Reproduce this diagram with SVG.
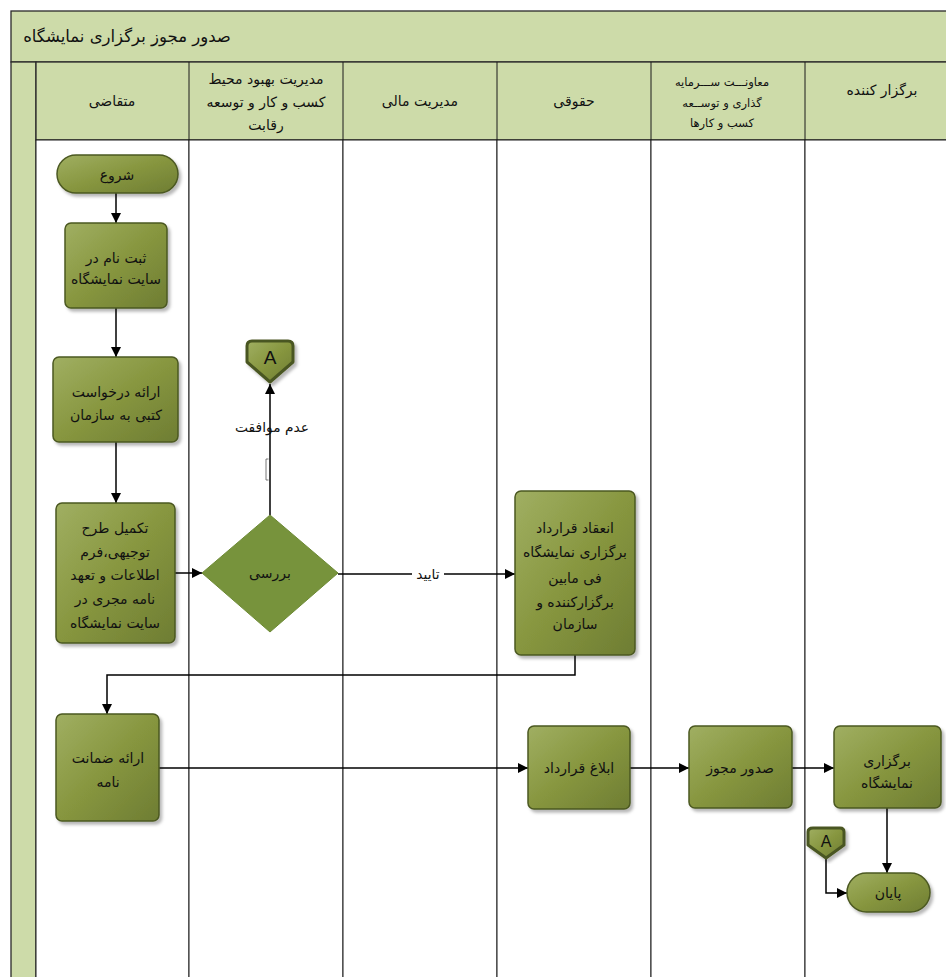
<svg xmlns="http://www.w3.org/2000/svg" width="946" height="977" viewBox="0 0 946 977">
<style>
.lane{fill:#ffffff;stroke:#1a1a1a;stroke-width:1}
.band{fill:#cddba9;stroke:#2a2a2a;stroke-width:1.3}
.hdr{font-family:"DejaVu Sans",sans-serif;font-size:14px;fill:#111;text-anchor:middle;dominant-baseline:central}
.hdrs{font-family:"DejaVu Sans",sans-serif;font-size:11.5px;fill:#111;text-anchor:middle;dominant-baseline:central}
.title{font-family:"DejaVu Sans",sans-serif;font-size:16.5px;fill:#111;text-anchor:middle;dominant-baseline:central}
.box{fill:url(#g);stroke:#4b5821;stroke-width:1.5;filter:url(#sh)}
.dia{fill:#77933c;stroke:#6d8a35;stroke-width:1}
.off{fill:url(#g);stroke:#4a5620;stroke-width:3;stroke-linejoin:round;filter:url(#sh)}
.nt{font-family:"DejaVu Sans",sans-serif;font-size:14px;fill:#111;text-anchor:middle;dominant-baseline:central}
.lt{font-family:"DejaVu Sans",sans-serif;font-size:13.8px;fill:#111;text-anchor:middle;dominant-baseline:central}
.at{font-family:"Liberation Sans",Arial,sans-serif;font-size:19px;fill:#111;text-anchor:middle;dominant-baseline:central}
.c{fill:none;stroke:#000;stroke-width:1.5;marker-end:url(#ah)}
</style>
<defs>
<linearGradient id="g" x1="0" y1="0" x2="1" y2="1">
<stop offset="0" stop-color="#a0af62"/>
<stop offset="0.5" stop-color="#87963f"/>
<stop offset="1" stop-color="#6e7d33"/>
</linearGradient>
<filter id="sh" x="-20%" y="-20%" width="140%" height="140%">
<feDropShadow dx="2.5" dy="3" stdDeviation="1.5" flood-color="#000" flood-opacity="0.28"/>
</filter>
<marker id="ah" viewBox="0 0 10 10" refX="10" refY="5" markerWidth="10" markerHeight="10" markerUnits="userSpaceOnUse" orient="auto">
<path d="M0,0 L10,5 L0,10 Z" fill="#000"/>
</marker>
</defs>
<rect x="0" y="0" width="946" height="977" fill="#ffffff"/>

<g id="pool">
<rect class="band" x="11" y="11" width="940" height="51"/>
<text class="title" x="127" y="36">صدور مجوز برگزاری نمایشگاه</text>
<rect class="band" x="11" y="62" width="25" height="920"/>
<rect class="band" x="36" y="62" width="915" height="78"/>
<rect class="lane" x="36" y="140" width="153" height="842"/>
<rect class="lane" x="189" y="140" width="154" height="842"/>
<rect class="lane" x="343" y="140" width="154" height="842"/>
<rect class="lane" x="497" y="140" width="154" height="842"/>
<rect class="lane" x="651" y="140" width="154" height="842"/>
<rect class="lane" x="805" y="140" width="146" height="842"/>
<line x1="189" y1="62" x2="189" y2="140" stroke="#1a1a1a" stroke-width="1"/>
<line x1="343" y1="62" x2="343" y2="140" stroke="#1a1a1a" stroke-width="1"/>
<line x1="497" y1="62" x2="497" y2="140" stroke="#1a1a1a" stroke-width="1"/>
<line x1="651" y1="62" x2="651" y2="140" stroke="#1a1a1a" stroke-width="1"/>
<line x1="805" y1="62" x2="805" y2="140" stroke="#1a1a1a" stroke-width="1"/>
<text class="hdr" x="112" y="101">متقاضی</text>
<text class="hdr" x="266" y="79">مدیریت بهبود محیط</text>
<text class="hdr" x="266" y="102">کسب و کار و توسعه</text>
<text class="hdr" x="266" y="125">رقابت</text>
<text class="hdr" x="420" y="101">مدیریت مالی</text>
<text class="hdr" x="574" y="101">حقوقی</text>
<text class="hdrs" x="722" y="82">معاونـــت ســـرمایه</text>
<text class="hdrs" x="722" y="103">گذاری و توســعه</text>
<text class="hdrs" x="722" y="123">کسب و کارها</text>
<text class="hdr" x="882" y="90">برگزار کننده</text>
</g>

<g id="connectors">
<path class="c" d="M116,193 L116,223"/>
<path class="c" d="M116,308 L116,357"/>
<path class="c" d="M116,442 L116,503"/>
<path class="c" d="M175,573 L202,573"/>
<path class="c" d="M270,515 L270,384"/>
<path class="c" d="M338,574 L515,574"/>
<path class="c" d="M575,655 L575,675 L107,675 L107,714"/>
<path class="c" d="M159,768 L528,768"/>
<path class="c" d="M630,768 L689,768"/>
<path class="c" d="M792,768 L834,768"/>
<path class="c" d="M887,808 L887,873"/>
<path class="c" d="M826,858 L826,893 L847,893"/>
<path d="M268.5,459 L266,459 L266,480 L268.5,480" fill="none" stroke="#555" stroke-width="0.8"/>
<text class="lt" x="272" y="427">عدم موافقت</text>
<rect x="412" y="566" width="32" height="16" fill="#ffffff"/>
<text class="lt" x="428" y="574">تایید</text>
</g>

<g id="start">
<rect class="box" x="57" y="155" width="121" height="38" rx="19" ry="19"/>
<text class="nt" x="117" y="175">شروع</text>
</g>
<g id="register">
<rect class="box" x="65" y="223" width="102" height="85" rx="6"/>
<text class="nt" x="116" y="258">ثبت نام در</text>
<text class="nt" x="116" y="279">سایت نمایشگاه</text>
</g>
<g id="request">
<rect class="box" x="53" y="357" width="125" height="85" rx="6"/>
<text class="nt" x="116" y="392">ارائه درخواست</text>
<text class="nt" x="116" y="415">کتبی به سازمان</text>
</g>
<g id="complete">
<rect class="box" x="56" y="503" width="119" height="140" rx="6"/>
<text class="nt" x="115" y="528">تکمیل طرح</text>
<text class="nt" x="115" y="552">توجیهی،فرم</text>
<text class="nt" x="115" y="575">اطلاعات و تعهد</text>
<text class="nt" x="115" y="599">نامه مجری در</text>
<text class="nt" x="115" y="623">سایت نمایشگاه</text>
</g>
<g id="review">
<polygon class="dia" points="270,515 338,573 270,632 202,573"/>
<text class="nt" x="270" y="573">بررسی</text>
</g>
<g id="offpage-a1">
<path class="off" d="M252,341 L288,341 Q293,341 293,346 L293,362 L270,382 L247,362 L247,346 Q247,341 252,341 Z"/>
<text class="at" x="270" y="357">A</text>
</g>
<g id="contract">
<rect class="box" x="515" y="491" width="120" height="164" rx="6"/>
<text class="nt" x="575" y="528">انعقاد قرارداد</text>
<text class="nt" x="575" y="552">برگزاری نمایشگاه</text>
<text class="nt" x="575" y="578">فی مابین</text>
<text class="nt" x="575" y="602">برگزارکننده و</text>
<text class="nt" x="575" y="624">سازمان</text>
</g>
<g id="guarantee">
<rect class="box" x="56" y="714" width="103" height="107" rx="6"/>
<text class="nt" x="108" y="758">ارائه ضمانت</text>
<text class="nt" x="108" y="782">نامه</text>
</g>
<g id="notify">
<rect class="box" x="528" y="726" width="102" height="83" rx="6"/>
<text class="nt" x="579" y="768">ابلاغ قرارداد</text>
</g>
<g id="permit">
<rect class="box" x="689" y="726" width="103" height="82" rx="6"/>
<text class="nt" x="740" y="768">صدور مجوز</text>
</g>
<g id="hold">
<rect class="box" x="834" y="726" width="107" height="82" rx="6"/>
<text class="nt" x="887" y="761">برگزاری</text>
<text class="nt" x="887" y="783">نمایشگاه</text>
</g>
<g id="offpage-a2">
<path class="off" d="M813,828 L840,828 Q844,828 844,832 L844,845 L826,858 L808,845 L808,832 Q808,828 813,828 Z"/>
<text class="at" x="826" y="841" style="font-size:16px">A</text>
</g>
<g id="end">
<rect class="box" x="847" y="873" width="83" height="39" rx="19.5" ry="19.5"/>
<text class="nt" x="888" y="893">پایان</text>
</g>
</svg>
